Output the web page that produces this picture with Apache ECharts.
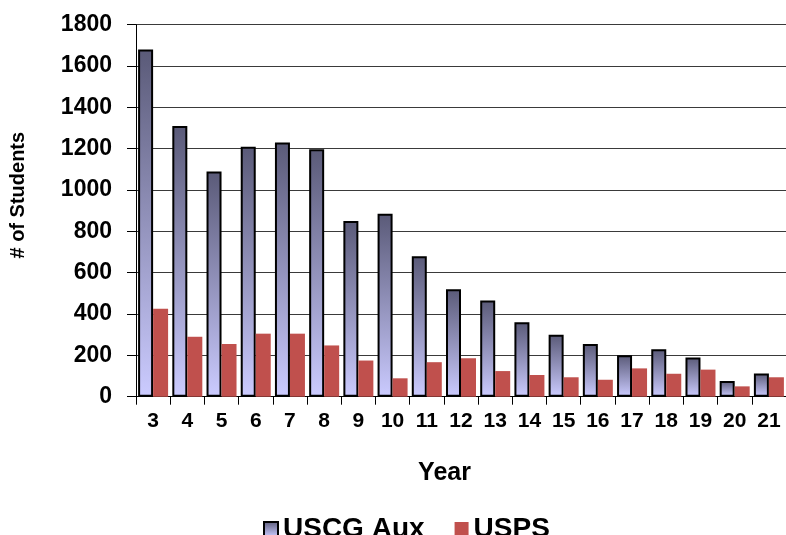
<!DOCTYPE html>
<html>
<head>
<meta charset="utf-8">
<script src="https://cdn.jsdelivr.net/npm/echarts@6/dist/echarts.min.js"></script>
<style>
html,body{margin:0;padding:0;background:#fff;}
#chart{width:786px;height:535px;}
</style>
</head>
<body>
<div id="chart"></div>
<script>
const years = ['3','4','5','6','7','8','9','10','11','12','13','14','15','16','17','18','19','20','21'];
const uscgAux = [1680,1310,1090,1210,1230,1197,850,885,680,520,465,360,300,255,200,230,190,76,112];
const usps = [425,290,255,305,305,248,175,89,167,186,124,105,94,82,137,111,131,50,94];
const yTicks = {min:0, max:1800, interval:200};

const font = 'Liberation Sans, Arial, sans-serif';
const chart = echarts.init(document.getElementById('chart'), null, {renderer:'canvas'});
chart.setOption({
  animation:false,
  backgroundColor:'#fff',
  textStyle:{fontFamily:font},
  grid:{left:136, top:24.7, bottom:138.3, right:-9.7, containLabel:false},
  legend:{
    left:258, top:510, icon:'rect',
    itemWidth:14, itemHeight:14, itemGap:30,
    textStyle:{fontSize:28, fontWeight:'bold', color:'#000', fontFamily:font},
    data:['USCG Aux','USPS']
  },
  xAxis:{
    type:'category', data:years,
    name:'Year', nameLocation:'middle', nameGap:64,
    nameTextStyle:{fontSize:25, fontWeight:'bold', color:'#000', fontFamily:font, padding:[0,33,0,0]},
    axisLine:{lineStyle:{color:'#000', width:1}},
    axisTick:{show:true, length:8, lineStyle:{color:'#000', width:1}},
    axisLabel:{fontSize:21, fontWeight:'bold', color:'#000', margin:14, fontFamily:font, interval:0},
    splitLine:{show:false}
  },
  yAxis:{
    type:'value', min:yTicks.min, max:yTicks.max, interval:yTicks.interval,
    name:'# of Students', nameLocation:'middle', nameGap:108,
    nameTextStyle:{fontSize:20, fontWeight:'bold', color:'#000', fontFamily:font, padding:[0,0,0,31]},
    axisLine:{show:true, lineStyle:{color:'#000', width:1}},
    axisTick:{show:true, length:9, lineStyle:{color:'#000', width:1}},
    axisLabel:{fontSize:23, fontWeight:'bold', color:'#000', margin:24, fontFamily:font,
      formatter:function(v){return String(v);}},
    splitLine:{show:true, lineStyle:{color:'#3a3a3a', width:1}}
  },
  series:[
    {
      name:'USCG Aux', type:'bar', data:uscgAux, barWidth:15, barGap:'0%',
      itemStyle:{
        borderColor:'#000', borderWidth:2,
        color:new echarts.graphic.LinearGradient(0,0,0,1,[
          {offset:0, color:'#5a5a78'},
          {offset:1, color:'#cbcbff'}
        ])
      }
    },
    {
      name:'USPS', type:'bar', data:usps, barWidth:15, barGap:'0%',
      itemStyle:{color:'#c0504d'}
    }
  ]
});
</script>
</body>
</html>
